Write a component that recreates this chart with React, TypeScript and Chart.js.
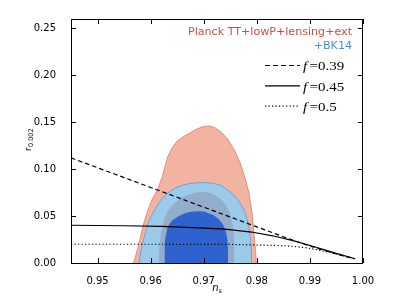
import React, { useEffect, useRef } from "react";
import { Chart, registerables } from "chart.js";

Chart.register(...registerables);

// Axis ticks
const xTicks = [0.95, 0.96, 0.97, 0.98, 0.99, 1.0];
const yTicks = [0.0, 0.05, 0.1, 0.15, 0.2, 0.25];

// Planck TT+lowP+lensing+ext, 95% region (upper boundary, filled to r = 0)
const planck95Ns = [0.9568, 0.9575, 0.9581, 0.9586, 0.9594, 0.9603, 0.9613, 0.9622, 0.9632, 0.9641, 0.965, 0.9663, 0.9675, 0.9688, 0.97, 0.971, 0.972, 0.9732, 0.9745, 0.9757, 0.9769, 0.9778, 0.9785, 0.9791, 0.9795, 0.9798, 0.9799];
const planck95R = [0.0, 0.014, 0.028, 0.04, 0.055, 0.068, 0.078, 0.092, 0.113, 0.123, 0.13, 0.135, 0.139, 0.143, 0.1455, 0.146, 0.1445, 0.14, 0.132, 0.121, 0.106, 0.09, 0.075, 0.053, 0.028, 0.01, 0.0];

// +BK14, 95% region
const bk95Ns = [0.9578, 0.9582, 0.9588, 0.9594, 0.96, 0.961, 0.9619, 0.9631, 0.9644, 0.966, 0.9675, 0.969, 0.9704, 0.9718, 0.9732, 0.9745, 0.9757, 0.9767, 0.9776, 0.9782, 0.9786, 0.9789, 0.979, 0.979];
const bk95R = [0.0, 0.014, 0.028, 0.04, 0.049, 0.059, 0.067, 0.074, 0.0794, 0.083, 0.0848, 0.0855, 0.0856, 0.0848, 0.083, 0.078, 0.0723, 0.065, 0.0564, 0.046, 0.035, 0.02, 0.008, 0.0];

// Planck 68% region (seen through BK14)
const planck68Ns = [0.9615, 0.9616, 0.9619, 0.9625, 0.9633, 0.9644, 0.9656, 0.9669, 0.9685, 0.97, 0.9713, 0.9726, 0.9736, 0.9744, 0.975, 0.9754, 0.9757, 0.9758, 0.9758];
const planck68R = [0.0, 0.015, 0.03, 0.0457, 0.056, 0.0635, 0.069, 0.0723, 0.075, 0.0759, 0.0745, 0.0705, 0.066, 0.06, 0.052, 0.042, 0.03, 0.015, 0.0];

// +BK14, 68% region
const bk68Ns = [0.9626, 0.9626, 0.9632, 0.964, 0.965, 0.9662, 0.9675, 0.969, 0.97, 0.9719, 0.9728, 0.9735, 0.9741, 0.9744, 0.9746, 0.9746];
const bk68R = [0.0, 0.021, 0.0387, 0.045, 0.049, 0.0525, 0.0546, 0.0552, 0.055, 0.051, 0.047, 0.0422, 0.035, 0.028, 0.014, 0.0];

// Model curves
const f039Ns = [0.945, 0.95, 0.955, 0.96, 0.965, 0.97, 0.975, 0.98, 0.985, 0.99, 0.995, 0.9985];
const f039R = [0.112, 0.1015, 0.091, 0.0805, 0.07, 0.0595, 0.049, 0.0385, 0.028, 0.018, 0.0095, 0.0045];
const f045Ns = [0.945, 0.955, 0.962, 0.968, 0.974, 0.979, 0.983, 0.987, 0.991, 0.995, 0.9985];
const f045R = [0.0402, 0.0397, 0.039, 0.0378, 0.036, 0.033, 0.029, 0.0235, 0.017, 0.0102, 0.0045];
const f05Ns = [0.945, 0.96, 0.975, 0.985, 0.989, 0.992, 0.995, 0.9985];
const f05R = [0.02, 0.02, 0.0198, 0.0185, 0.0165, 0.0135, 0.0095, 0.0045];

const legendLines = [
  { label: "0.39", dash: [5, 3] },
  { label: "0.45", dash: [] },
  { label: "0.5", dash: [1.2, 2.3] },
];

const pts = (xs: number[], ys: number[]) => xs.map((x, i) => ({ x, y: ys[i] }));

const decorPlugin = {
  id: "decor",
  afterDatasetsDraw(chart: any) {
    const { ctx, chartArea: a, scales } = chart;
    const xs = scales.x;
    const ys = scales.y;
    const L = Math.round(a.left), R = Math.round(a.right), T = Math.round(a.top), B = Math.round(a.bottom);
    ctx.save();
    ctx.strokeStyle = "#000";
    ctx.lineWidth = 1;
    ctx.setLineDash([]);
    ctx.strokeRect(L + 0.5, T + 0.5, R - L - 1, B - T);
    const tl = 5;
    ctx.beginPath();
    xTicks.forEach((v) => {
      const p = Math.round(xs.getPixelForValue(v)) + 0.5;
      ctx.moveTo(p, B);
      ctx.lineTo(p, B - tl);
      ctx.moveTo(p, T);
      ctx.lineTo(p, T + tl);
    });
    yTicks.forEach((v) => {
      const p = Math.round(ys.getPixelForValue(v)) + 0.5;
      ctx.moveTo(L, p);
      ctx.lineTo(L + tl, p);
      ctx.moveTo(R, p);
      ctx.lineTo(R - tl, p);
    });
    ctx.stroke();

    // Dataset legend
    ctx.textBaseline = "alphabetic";
    ctx.save();
    ctx.translate(352, 35);
    ctx.scale(1.11, 1);
    ctx.textAlign = "right";
    ctx.font = "10px 'DejaVu Sans'";
    ctx.fillStyle = "#d9493f";
    ctx.fillText("Planck TT+lowP+lensing+ext", 0, 0);
    ctx.fillStyle = "#4b8fdb";
    ctx.fillText("+BK14", 0, 13.5);
    ctx.restore();

    // Line legend
    legendLines.forEach((it, i) => {
      const y = 65.5 + i * 20.3;
      ctx.beginPath();
      ctx.strokeStyle = "#000";
      ctx.lineWidth = 1.2;
      ctx.setLineDash(it.dash);
      ctx.moveTo(265, y);
      ctx.lineTo(300, y);
      ctx.stroke();
      ctx.setLineDash([]);
      ctx.save();
      ctx.translate(303, y + 4.8);
      ctx.scale(1.15, 1);
      ctx.fillStyle = "#000";
      ctx.textAlign = "left";
      ctx.font = "italic 13px 'Liberation Serif'";
      ctx.fillText("f", 0, 0);
      ctx.font = "13px 'Liberation Serif'";
      ctx.fillText("=", 5.7, 0);
      ctx.fillText(it.label, 13, 0);
      ctx.restore();
    });

    // Axis titles
    ctx.fillStyle = "#000";
    ctx.textAlign = "left";
    ctx.save();
    ctx.translate(31, (T + B) / 2 + 10);
    ctx.rotate(-Math.PI / 2);
    ctx.font = "9px 'DejaVu Sans'";
    ctx.fillText("r", 0, 0);
    const rw = ctx.measureText("r").width;
    ctx.font = "6.5px 'DejaVu Sans'";
    ctx.fillText("0.002", rw + 0.3, 2);
    ctx.restore();

    ctx.save();
    ctx.font = "italic 10px 'DejaVu Sans'";
    const nw = ctx.measureText("n").width;
    ctx.font = "6.5px 'DejaVu Sans'";
    const sw = ctx.measureText("s").width;
    const x0 = (L + R) / 2 - (nw + sw) / 2;
    ctx.font = "italic 10px 'DejaVu Sans'";
    ctx.fillText("n", x0, 291);
    ctx.font = "6.5px 'DejaVu Sans'";
    ctx.fillText("s", x0 + nw, 293);
    ctx.restore();

    ctx.restore();
  },
};

export default function App() {
  const ref = useRef<HTMLCanvasElement | null>(null);
  useEffect(() => {
    if (!ref.current) return;
    const area = (data: any, bg: string, border: string, bw: number, order: number) => ({
      data,
      backgroundColor: bg,
      borderColor: border,
      borderWidth: bw,
      fill: "origin",
      pointRadius: 0,
      tension: 0,
      order,
    });
    const line = (data: any, dash: number[], order: number) => ({
      data,
      borderColor: "#000",
      borderWidth: 1.2,
      borderDash: dash,
      fill: false,
      pointRadius: 0,
      tension: 0,
      order,
    });
    const chart = new Chart(ref.current, {
      type: "line",
      data: {
        datasets: [
          line(pts(f039Ns, f039R), [4.5, 3], 0),
          line(pts(f045Ns, f045R), [], 0),
          line(pts(f05Ns, f05R), [1.2, 2.3], 0),
          area(pts(bk68Ns, bk68R), "#2e63cf", "#2e63cf", 0, 1),
          area(pts(planck68Ns, planck68R), "#93aecc", "#93aecc", 0, 2),
          area(pts(bk95Ns, bk95R), "#9bcbe8", "#6fa3d8", 1, 3),
          area(pts(planck95Ns, planck95R), "#f3b3a1", "#e48a78", 1, 4),
        ] as any,
      },
      options: {
        animation: false,
        responsive: false,
        devicePixelRatio: 1,
        layout: { padding: { left: 0, right: 39, top: 19, bottom: 0 } },
        plugins: { legend: { display: false }, tooltip: { enabled: false } },
        scales: {
          x: {
            type: "linear",
            min: 0.945,
            max: 1.0,
            grid: { display: false },
            border: { display: false },
            afterBuildTicks: (s: any) => {
              s.ticks = xTicks.map((v) => ({ value: v }));
            },
            afterFit: (s: any) => {
              s.height = 36;
            },
            ticks: {
              padding: 4,
              color: "#000",
              font: { family: "'DejaVu Sans'", size: 10 },
              maxRotation: 0,
              callback: (v: any) => Number(v).toFixed(2),
            },
          },
          y: {
            type: "linear",
            min: 0,
            max: 0.26,
            grid: { display: false },
            border: { display: false },
            afterBuildTicks: (s: any) => {
              s.ticks = yTicks.map((v) => ({ value: v }));
            },
            afterFit: (s: any) => {
              s.width = 71;
            },
            ticks: {
              padding: 7,
              color: "#000",
              font: { family: "'DejaVu Sans'", size: 10 },
              callback: (v: any) => Number(v).toFixed(2),
            },
          },
        },
      },
      plugins: [decorPlugin],
    });
    return () => chart.destroy();
  }, []);
  return (
    <div style={{ position: "absolute", left: 0, top: 0, width: 402, height: 299, background: "#fff" }}>
      <canvas ref={ref} width={402} height={299} style={{ width: 402, height: 299 }} />
    </div>
  );
}
